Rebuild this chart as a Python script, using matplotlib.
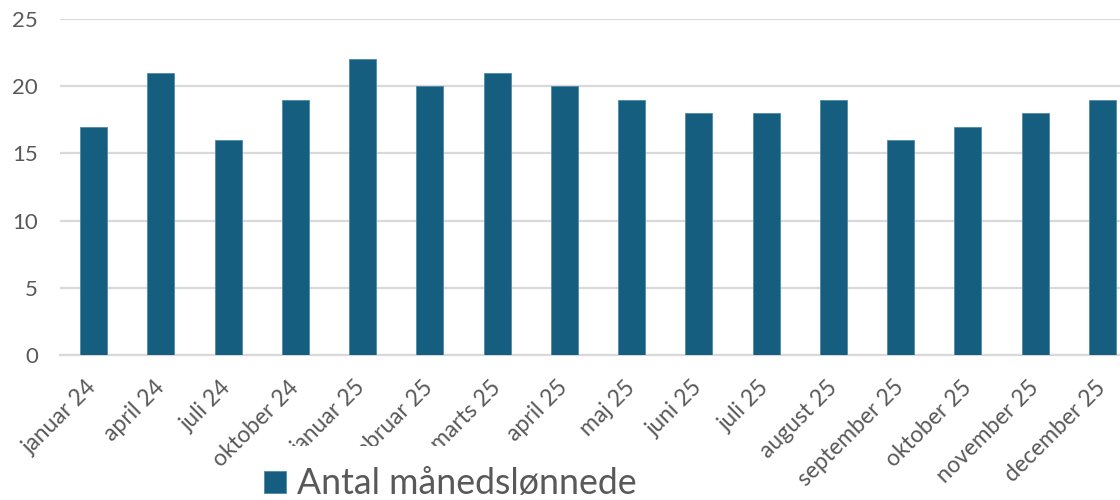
import matplotlib.pyplot as plt
import numpy as np

# data
months = ['januar 24', 'april 24', 'juli 24', 'oktober 24', 'januar 25', 'februar 25',
          'marts 25', 'april 25', 'maj 25', 'juni 25', 'juli 25', 'august 25',
          'september 25', 'oktober 25', 'november 25', 'december 25']
counts = [17, 21, 16, 19, 22, 20, 21, 20, 19, 18, 18, 19, 16, 17, 18, 19]
series_name = 'Antal månedslønnede'
y_ticks = [0, 5, 10, 15, 20, 25]

bar_color = '#155e80'
text_color = '#595959'
grid_color = '#d9d9d9'

plt.rcParams['font.family'] = ['Lato', 'DejaVu Sans']

fig = plt.figure(figsize=(11.2, 5), dpi=100)
# axes runs past the right edge, the reference is cropped there
ax = fig.add_axes([60 / 1120, 145 / 500, 1076 / 1120, 336 / 500])

x = np.arange(len(months))
ax.bar(x, counts, width=0.4, color=bar_color, edgecolor='#4f8aa8', linewidth=0.6,
       zorder=3, label=series_name)

ax.set_xlim(-0.5, len(months) - 0.5)
ax.set_ylim(0, 25)
ax.set_yticks(y_ticks)
ax.yaxis.grid(True, color=grid_color, linewidth=1.6, zorder=0)
ax.set_axisbelow(True)

for s in ['top', 'right', 'left']:
    ax.spines[s].set_visible(False)
ax.spines['bottom'].set_color(grid_color)
ax.spines['bottom'].set_linewidth(1.6)

ax.tick_params(axis='y', length=0, pad=16, labelsize=16, labelcolor=text_color)
ax.tick_params(axis='x', length=0, pad=21, labelsize=16.5, labelcolor=text_color)
ax.set_xticks(x)
ax.set_xticklabels(months, rotation=45, ha='right', va='center', rotation_mode='anchor')

# legend with a white box, it hides part of the tick labels like in the original
leg = fig.legend(loc='upper left', bbox_to_anchor=(243 / 1120, 54 / 500),
                 frameon=True, facecolor='white', edgecolor='none', framealpha=1,
                 fontsize=25.7, handlelength=0.6, handleheight=0.6,
                 handletextpad=0.3, borderpad=0.6, borderaxespad=0)
for t in leg.get_texts():
    t.set_color(text_color)

fig.savefig('out.png', dpi=100)
